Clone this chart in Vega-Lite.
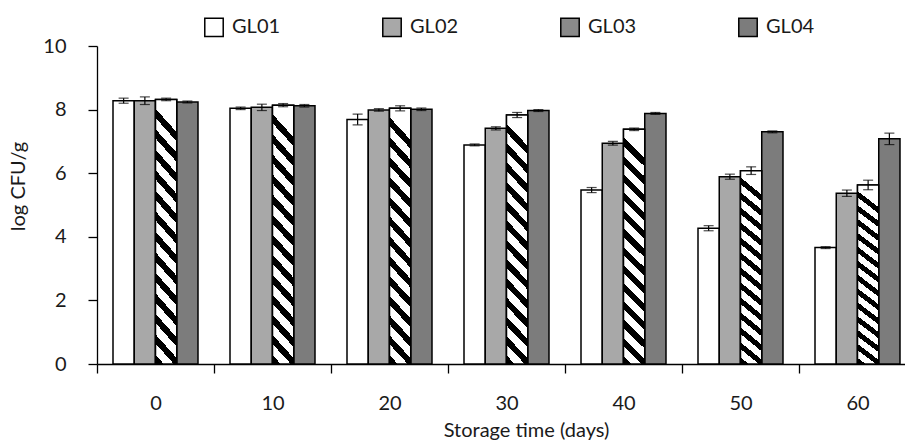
{
  "$schema": "https://vega.github.io/schema/vega-lite/v6.json",
  "width": 808,
  "height": 318,
  "autosize": {"type": "none"},
  "padding": {"left": 97, "top": 46, "right": 0, "bottom": 77},
  "background": "white",
  "config": {
    "font": "Lato",
    "view": {"stroke": null},
    "axis": {"labelFont": "Lato", "titleFont": "Lato", "labelColor": "#1a1a1a", "titleColor": "#1a1a1a", "domainColor": "black", "tickColor": "black", "domainWidth": 1.3, "tickWidth": 1.3, "grid": false, "titleFontWeight": "normal"},
    "legend": {"labelFont": "Lato"}
  },
  "data": {
    "values": [
      {"day": "0", "series": "GL01", "value": 8.28, "err": 0.08},
      {"day": "0", "series": "GL02", "value": 8.28, "err": 0.12},
      {"day": "0", "series": "GL03", "value": 8.32, "err": 0.04},
      {"day": "0", "series": "GL04", "value": 8.24, "err": 0.03},
      {"day": "10", "series": "GL01", "value": 8.04, "err": 0.04},
      {"day": "10", "series": "GL02", "value": 8.07, "err": 0.1},
      {"day": "10", "series": "GL03", "value": 8.14, "err": 0.05},
      {"day": "10", "series": "GL04", "value": 8.12, "err": 0.04},
      {"day": "20", "series": "GL01", "value": 7.69, "err": 0.17},
      {"day": "20", "series": "GL02", "value": 7.99, "err": 0.04},
      {"day": "20", "series": "GL03", "value": 8.04, "err": 0.08},
      {"day": "20", "series": "GL04", "value": 8.01, "err": 0.04},
      {"day": "30", "series": "GL01", "value": 6.89, "err": 0.03},
      {"day": "30", "series": "GL02", "value": 7.41, "err": 0.05},
      {"day": "30", "series": "GL03", "value": 7.83, "err": 0.08},
      {"day": "30", "series": "GL04", "value": 7.97, "err": 0.03},
      {"day": "40", "series": "GL01", "value": 5.47, "err": 0.08},
      {"day": "40", "series": "GL02", "value": 6.94, "err": 0.06},
      {"day": "40", "series": "GL03", "value": 7.38, "err": 0.04},
      {"day": "40", "series": "GL04", "value": 7.88, "err": 0.03},
      {"day": "50", "series": "GL01", "value": 4.27, "err": 0.08},
      {"day": "50", "series": "GL02", "value": 5.89, "err": 0.08},
      {"day": "50", "series": "GL03", "value": 6.08, "err": 0.12},
      {"day": "50", "series": "GL04", "value": 7.3, "err": 0.03},
      {"day": "60", "series": "GL01", "value": 3.66, "err": 0.03},
      {"day": "60", "series": "GL02", "value": 5.37, "err": 0.1},
      {"day": "60", "series": "GL03", "value": 5.63, "err": 0.15},
      {"day": "60", "series": "GL04", "value": 7.08, "err": 0.18}
    ]
  },
  "encoding": {
    "x": {
      "field": "day", "type": "nominal",
      "sort": ["0", "10", "20", "30", "40", "50", "60"],
      "scale": {"range": [0, 819], "paddingInner": 0, "paddingOuter": 0},
      "axis": {"title": "Storage time (days)", "labelAngle": 0, "labelFontSize": 20, "titleFontSize": 20, "tickSize": 9, "tickBand": "extent", "labelPadding": 20, "titleX": 429, "titleY": 56}
    },
    "xOffset": {"field": "series", "type": "nominal", "scale": {"paddingInner": 0, "paddingOuter": 0.753}}
  },
  "layer": [
    {
      "mark": {"type": "bar", "stroke": "black", "strokeWidth": 1.5},
      "encoding": {
        "y": {"field": "value", "type": "quantitative", "title": "log CFU/g", "scale": {"domain": [0, 10], "nice": false},
          "axis": {"title": "log CFU/g", "values": [0, 2, 4, 6, 8, 10], "labelFontSize": 20, "titleFontSize": 20, "tickSize": 9, "labelPadding": 22, "titlePadding": 14, "titleY": 140}},
        "color": {"field": "series", "type": "nominal",
          "scale": {"domain": ["GL01", "GL02", "GL03", "GL04"], "range": ["#ffffff", "#a8a8a8", "#8a8a8a", "#7c7c7c"]},
          "legend": {"title": null, "orient": "none", "legendX": 107, "legendY": -29, "direction": "horizontal", "symbolType": "square", "symbolSize": 340, "symbolStrokeColor": "black", "symbolStrokeWidth": 1.5, "labelFontSize": 20, "labelColor": "#1a1a1a", "labelOffset": 8, "columnPadding": 98, "symbolOpacity": 1}}
      }
    },
    {
      "transform": [{"filter": "datum.series === 'GL03'"}],
      "mark": {"type": "bar", "stroke": "black", "strokeWidth": 1.5,
        "fill": {"gradient": "linear", "x1": 0.09, "y1": 0, "x2": 0, "y2": 1, "stops": [
          {"offset": 0, "color": "white"}, {"offset": 0.0423, "color": "white"}, {"offset": 0.0423, "color": "black"}, {"offset": 0.0769, "color": "black"},
          {"offset": 0.0769, "color": "white"}, {"offset": 0.1192, "color": "white"}, {"offset": 0.1192, "color": "black"}, {"offset": 0.1538, "color": "black"},
          {"offset": 0.1538, "color": "white"}, {"offset": 0.1961, "color": "white"}, {"offset": 0.1961, "color": "black"}, {"offset": 0.2308, "color": "black"},
          {"offset": 0.2308, "color": "white"}, {"offset": 0.2731, "color": "white"}, {"offset": 0.2731, "color": "black"}, {"offset": 0.3077, "color": "black"},
          {"offset": 0.3077, "color": "white"}, {"offset": 0.35, "color": "white"}, {"offset": 0.35, "color": "black"}, {"offset": 0.3846, "color": "black"},
          {"offset": 0.3846, "color": "white"}, {"offset": 0.4269, "color": "white"}, {"offset": 0.4269, "color": "black"}, {"offset": 0.4615, "color": "black"},
          {"offset": 0.4615, "color": "white"}, {"offset": 0.5038, "color": "white"}, {"offset": 0.5038, "color": "black"}, {"offset": 0.5385, "color": "black"},
          {"offset": 0.5385, "color": "white"}, {"offset": 0.5808, "color": "white"}, {"offset": 0.5808, "color": "black"}, {"offset": 0.6154, "color": "black"},
          {"offset": 0.6154, "color": "white"}, {"offset": 0.6577, "color": "white"}, {"offset": 0.6577, "color": "black"}, {"offset": 0.6923, "color": "black"},
          {"offset": 0.6923, "color": "white"}, {"offset": 0.7346, "color": "white"}, {"offset": 0.7346, "color": "black"}, {"offset": 0.7692, "color": "black"},
          {"offset": 0.7692, "color": "white"}, {"offset": 0.8115, "color": "white"}, {"offset": 0.8115, "color": "black"}, {"offset": 0.8462, "color": "black"},
          {"offset": 0.8462, "color": "white"}, {"offset": 0.8885, "color": "white"}, {"offset": 0.8885, "color": "black"}, {"offset": 0.9231, "color": "black"},
          {"offset": 0.9231, "color": "white"}, {"offset": 0.9654, "color": "white"}, {"offset": 0.9654, "color": "black"}, {"offset": 1, "color": "black"}
        ]}},
      "encoding": {
        "y": {"field": "value", "type": "quantitative", "title": "log CFU/g"}
      }
    },
    {
      "mark": {"type": "errorbar", "ticks": {"size": 10, "color": "black", "thickness": 1.2}, "color": "black", "thickness": 1.2},
      "encoding": {
        "y": {"field": "value", "type": "quantitative", "title": "log CFU/g"},
        "yError": {"field": "err"}
      }
    }
  ]
}
